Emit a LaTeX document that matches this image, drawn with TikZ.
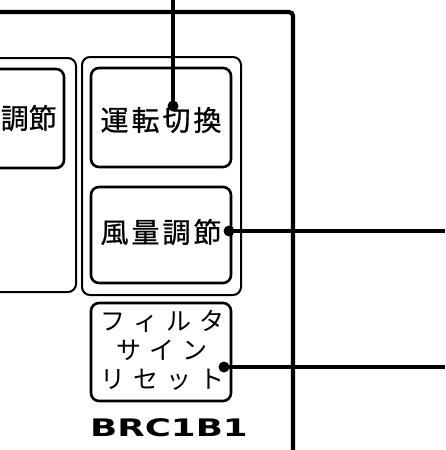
\documentclass[tikz,border=0pt]{standalone}
\usepackage{fontspec}
\newfontfamily\jp{Noto Sans CJK JP}
\newfontfamily\jpb[FakeBold=0.8]{Noto Sans CJK JP}
\newfontfamily\lbl{DejaVu Sans}
\newcommand{\kk}{\hspace{3pt}}
\newcommand{\kq}{\hspace{8pt}}
\begin{document}
\begin{tikzpicture}[x=1pt,y=-1pt,
  frame/.style={line width=4.2pt},
  panel/.style={draw,line width=2pt,rounded corners=8pt},
  button/.style={draw,line width=2.6pt,rounded corners=8pt},
  wire/.style={line width=3.8pt},
  dotc/.style={circle,fill=black,inner sep=0pt,minimum size=11pt},
  btext/.style={font=\jpb\fontsize{28}{30}\selectfont,inner sep=0pt},
  ktext/.style={font=\jp\fontsize{25}{29}\selectfont,inner sep=0pt,align=center}]
\useasboundingbox (0,0) rectangle (445,450);
% outer frame
\draw[frame,rounded corners=4pt] (0,12) -- (293,12) -- (293,450);
% left panel (partially visible)
\begin{scope}
\clip (0,0) rectangle (445,450);
\draw[panel] (-40,58) rectangle (76,292);
\draw[button] (-40,69) rectangle (64,168);
\end{scope}
\node[btext,anchor=east] (t0) at (57,118) {調節};
% right panel
\draw[panel] (82,57) rectangle (241,295);
\node[button,minimum width=140pt,minimum height=99pt] (b1) at (161,117.5) {};
\node[btext] (t1) at (161,120) {運\kk 転\kk 切\kk 換};
\node[button,minimum width=140pt,minimum height=96pt] (b2) at (161,235) {};
\node[btext] (t2) at (161,232) {風\kk 量\kk 調\kk 節};
\node[button,minimum width=140pt,minimum height=98pt] (b3) at (161,352) {};
\node[ktext] (t3) at (162,350) {フ\kq ィ\kq ル\kq タ\\サ\kq イ\kq ン\\リ\kq セ\kq ッ\kq ト};
\node[inner sep=0pt] (model) at (169,428) {\scalebox{1.55}[1.05]{\lbl\bfseries\fontsize{23}{24}\selectfont BRC1B1}};
% connectors
\node[dotc] (d1) at (173,106) {};
\node[dotc] (d2) at (229,231) {};
\node[dotc] (d3) at (224,367) {};
\coordinate (e1) at (173,0);
\coordinate (e2) at (445,231);
\coordinate (e3) at (445,367);
\draw[wire] (e1) -- (d1.center);
\draw[wire] (d2.center) -- (e2);
\draw[wire] (d3.center) -- (e3);
\end{tikzpicture}
\end{document}
